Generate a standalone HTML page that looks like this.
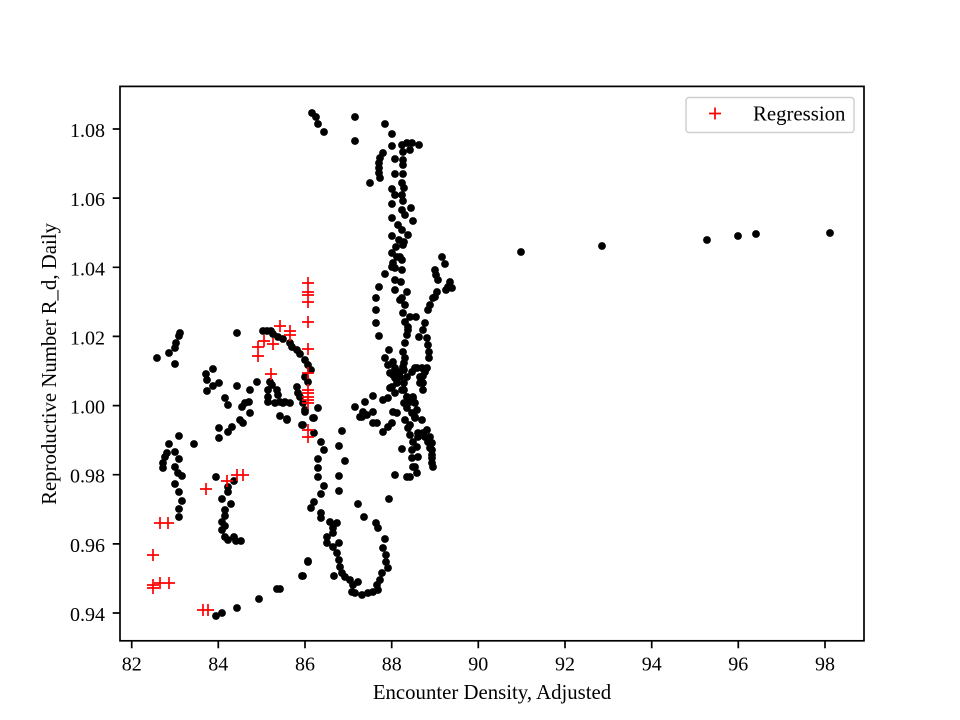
<!DOCTYPE html>
<html><head><meta charset="utf-8"><style>
html,body{margin:0;padding:0;background:#fff}
svg{display:block}
text{font-family:"Liberation Serif","DejaVu Serif",serif;fill:#000}
</style></head><body>
<svg width="960" height="720" viewBox="0 0 960 720" xmlns="http://www.w3.org/2000/svg">
<rect width="960" height="720" fill="#fff"/>
<g fill="#000">
<circle cx="179" cy="336" r="3.9"/><circle cx="176" cy="343" r="3.9"/><circle cx="175" cy="348" r="3.9"/><circle cx="169" cy="353" r="3.9"/><circle cx="157" cy="358" r="3.9"/><circle cx="175" cy="364" r="3.9"/><circle cx="180" cy="333" r="3.9"/>
<circle cx="237" cy="333" r="3.9"/>
<circle cx="263" cy="331" r="3.9"/><circle cx="267" cy="331" r="3.9"/><circle cx="271" cy="331" r="3.9"/><circle cx="273" cy="334" r="3.9"/><circle cx="278" cy="337" r="3.9"/><circle cx="283" cy="339" r="3.9"/><circle cx="290" cy="343" r="3.9"/><circle cx="292" cy="347" r="3.9"/><circle cx="297" cy="350" r="3.9"/><circle cx="300" cy="354" r="3.9"/><circle cx="305" cy="360" r="3.9"/><circle cx="308" cy="365" r="3.9"/><circle cx="311" cy="370" r="3.9"/>
<circle cx="213" cy="369" r="3.9"/><circle cx="206" cy="374" r="3.9"/><circle cx="207" cy="380" r="3.9"/><circle cx="207" cy="391" r="3.9"/><circle cx="219" cy="383" r="3.9"/><circle cx="213" cy="386" r="3.9"/>
<circle cx="237" cy="386" r="3.9"/><circle cx="250" cy="390" r="3.9"/><circle cx="257" cy="382" r="3.9"/><circle cx="225" cy="398" r="3.9"/><circle cx="228" cy="405" r="3.9"/>
<circle cx="245" cy="403" r="3.9"/><circle cx="249" cy="402" r="3.9"/><circle cx="242" cy="407" r="3.9"/><circle cx="250" cy="413" r="3.9"/><circle cx="240" cy="420" r="3.9"/><circle cx="243" cy="423" r="3.9"/>
<circle cx="219" cy="428" r="3.9"/><circle cx="219" cy="438" r="3.9"/><circle cx="228" cy="432" r="3.9"/><circle cx="232" cy="427" r="3.9"/>
<circle cx="270" cy="382" r="3.9"/><circle cx="272" cy="385" r="3.9"/><circle cx="268" cy="390" r="3.9"/><circle cx="268" cy="397" r="3.9"/><circle cx="268" cy="402" r="3.9"/><circle cx="275" cy="403" r="3.9"/><circle cx="277" cy="390" r="3.9"/><circle cx="278" cy="395" r="3.9"/><circle cx="280" cy="402" r="3.9"/><circle cx="285" cy="402" r="3.9"/><circle cx="290" cy="403" r="3.9"/><circle cx="280" cy="416" r="3.9"/><circle cx="287" cy="419" r="3.9"/>
<circle cx="297" cy="387" r="3.9"/><circle cx="298" cy="393" r="3.9"/><circle cx="300" cy="397" r="3.9"/><circle cx="303" cy="403" r="3.9"/><circle cx="305" cy="410" r="3.9"/><circle cx="303" cy="425" r="3.9"/><circle cx="305" cy="377" r="3.9"/><circle cx="308" cy="382" r="3.9"/>
<circle cx="283" cy="403" r="3.9"/><circle cx="287" cy="420" r="3.9"/><circle cx="302" cy="425" r="3.9"/><circle cx="313" cy="418" r="3.9"/><circle cx="305" cy="412" r="3.9"/>
<circle cx="318" cy="408" r="3.9"/><circle cx="314" cy="418" r="3.9"/><circle cx="314" cy="433" r="3.9"/><circle cx="321" cy="442" r="3.9"/><circle cx="324" cy="450" r="3.9"/><circle cx="318" cy="459" r="3.9"/><circle cx="318" cy="468" r="3.9"/><circle cx="318" cy="477" r="3.9"/><circle cx="324" cy="486" r="3.9"/><circle cx="321" cy="494" r="3.9"/><circle cx="314" cy="502" r="3.9"/><circle cx="311" cy="508" r="3.9"/><circle cx="321" cy="513" r="3.9"/><circle cx="321" cy="518" r="3.9"/><circle cx="330" cy="522" r="3.9"/><circle cx="337" cy="523" r="3.9"/><circle cx="333" cy="528" r="3.9"/><circle cx="333" cy="533" r="3.9"/><circle cx="327" cy="537" r="3.9"/><circle cx="327" cy="543" r="3.9"/><circle cx="333" cy="547" r="3.9"/><circle cx="339" cy="543" r="3.9"/><circle cx="337" cy="553" r="3.9"/><circle cx="339" cy="560" r="3.9"/><circle cx="340" cy="567" r="3.9"/><circle cx="342" cy="573" r="3.9"/><circle cx="334" cy="576" r="3.9"/><circle cx="345" cy="577" r="3.9"/><circle cx="350" cy="580" r="3.9"/><circle cx="353" cy="585" r="3.9"/><circle cx="358" cy="582" r="3.9"/><circle cx="352" cy="592" r="3.9"/><circle cx="355" cy="593" r="3.9"/><circle cx="362" cy="595" r="3.9"/><circle cx="368" cy="593" r="3.9"/><circle cx="373" cy="592" r="3.9"/><circle cx="378" cy="590" r="3.9"/><circle cx="377" cy="585" r="3.9"/><circle cx="380" cy="580" r="3.9"/><circle cx="382" cy="573" r="3.9"/><circle cx="388" cy="568" r="3.9"/><circle cx="386" cy="562" r="3.9"/><circle cx="386" cy="555" r="3.9"/><circle cx="383" cy="548" r="3.9"/><circle cx="385" cy="539" r="3.9"/><circle cx="378" cy="528" r="3.9"/><circle cx="376" cy="523" r="3.9"/><circle cx="364" cy="517" r="3.9"/><circle cx="358" cy="504" r="3.9"/><circle cx="389" cy="499" r="3.9"/><circle cx="308" cy="562" r="3.9"/><circle cx="303" cy="576" r="3.9"/><circle cx="280" cy="589" r="3.9"/>
<circle cx="342" cy="431" r="3.9"/><circle cx="339" cy="446" r="3.9"/><circle cx="345" cy="461" r="3.9"/><circle cx="339" cy="476" r="3.9"/><circle cx="339" cy="491" r="3.9"/>
<circle cx="355" cy="407" r="3.9"/><circle cx="360" cy="417" r="3.9"/>
<circle cx="179" cy="436" r="3.9"/><circle cx="169" cy="444" r="3.9"/><circle cx="175" cy="452" r="3.9"/><circle cx="167" cy="453" r="3.9"/><circle cx="165" cy="457" r="3.9"/><circle cx="179" cy="459" r="3.9"/><circle cx="163" cy="463" r="3.9"/><circle cx="163" cy="468" r="3.9"/><circle cx="175" cy="467" r="3.9"/><circle cx="178" cy="473" r="3.9"/><circle cx="182" cy="476" r="3.9"/><circle cx="175" cy="484" r="3.9"/><circle cx="179" cy="492" r="3.9"/><circle cx="182" cy="501" r="3.9"/><circle cx="179" cy="509" r="3.9"/><circle cx="179" cy="517" r="3.9"/><circle cx="194" cy="444" r="3.9"/>
<circle cx="216" cy="477" r="3.9"/><circle cx="234" cy="481" r="3.9"/><circle cx="228" cy="487" r="3.9"/><circle cx="228" cy="492" r="3.9"/><circle cx="222" cy="499" r="3.9"/><circle cx="231" cy="504" r="3.9"/><circle cx="225" cy="510" r="3.9"/><circle cx="225" cy="516" r="3.9"/><circle cx="222" cy="522" r="3.9"/><circle cx="225" cy="526" r="3.9"/><circle cx="222" cy="530" r="3.9"/><circle cx="225" cy="537" r="3.9"/><circle cx="228" cy="540" r="3.9"/><circle cx="234" cy="537" r="3.9"/><circle cx="236" cy="541" r="3.9"/><circle cx="241" cy="541" r="3.9"/>
<circle cx="216" cy="616" r="3.9"/><circle cx="222" cy="613" r="3.9"/><circle cx="237" cy="608" r="3.9"/><circle cx="259" cy="599" r="3.9"/><circle cx="277" cy="589" r="3.9"/><circle cx="302" cy="576" r="3.9"/><circle cx="308" cy="561" r="3.9"/>
<circle cx="312" cy="113" r="3.9"/><circle cx="316" cy="117" r="3.9"/><circle cx="318" cy="124" r="3.9"/><circle cx="324" cy="132" r="3.9"/><circle cx="355" cy="117" r="3.9"/><circle cx="355" cy="141" r="3.9"/>
<circle cx="385" cy="124" r="3.9"/><circle cx="392" cy="134" r="3.9"/><circle cx="392" cy="146" r="3.9"/><circle cx="402" cy="145" r="3.9"/><circle cx="407" cy="143" r="3.9"/><circle cx="412" cy="143" r="3.9"/><circle cx="419" cy="145" r="3.9"/><circle cx="410" cy="150" r="3.9"/><circle cx="403" cy="152" r="3.9"/><circle cx="395" cy="159" r="3.9"/><circle cx="403" cy="160" r="3.9"/><circle cx="403" cy="165" r="3.9"/>
<circle cx="383" cy="153" r="3.9"/><circle cx="380" cy="158" r="3.9"/><circle cx="379" cy="163" r="3.9"/><circle cx="379" cy="168" r="3.9"/><circle cx="379" cy="173" r="3.9"/><circle cx="380" cy="178" r="3.9"/><circle cx="370" cy="183" r="3.9"/>
<circle cx="395" cy="174" r="3.9"/><circle cx="403" cy="174" r="3.9"/><circle cx="402" cy="183" r="3.9"/><circle cx="404" cy="188" r="3.9"/><circle cx="392" cy="189" r="3.9"/><circle cx="395" cy="195" r="3.9"/><circle cx="392" cy="204" r="3.9"/><circle cx="402" cy="195" r="3.9"/><circle cx="403" cy="201" r="3.9"/><circle cx="402" cy="210" r="3.9"/><circle cx="411" cy="208" r="3.9"/><circle cx="405" cy="215" r="3.9"/><circle cx="392" cy="218" r="3.9"/><circle cx="413" cy="221" r="3.9"/><circle cx="398" cy="225" r="3.9"/><circle cx="402" cy="230" r="3.9"/><circle cx="408" cy="235" r="3.9"/><circle cx="392" cy="236" r="3.9"/><circle cx="399" cy="240" r="3.9"/><circle cx="403" cy="245" r="3.9"/><circle cx="396" cy="247" r="3.9"/><circle cx="392" cy="253" r="3.9"/><circle cx="400" cy="257" r="3.9"/><circle cx="404" cy="242" r="3.9"/><circle cx="397" cy="257" r="3.9"/>
<circle cx="402" cy="260" r="3.9"/><circle cx="393" cy="263" r="3.9"/><circle cx="392" cy="267" r="3.9"/><circle cx="395" cy="268" r="3.9"/><circle cx="402" cy="270" r="3.9"/><circle cx="385" cy="274" r="3.9"/><circle cx="395" cy="280" r="3.9"/><circle cx="401" cy="282" r="3.9"/><circle cx="395" cy="290" r="3.9"/><circle cx="407" cy="292" r="3.9"/><circle cx="402" cy="298" r="3.9"/><circle cx="400" cy="300" r="3.9"/><circle cx="405" cy="305" r="3.9"/><circle cx="403" cy="313" r="3.9"/><circle cx="410" cy="317" r="3.9"/><circle cx="416" cy="317" r="3.9"/><circle cx="405" cy="322" r="3.9"/><circle cx="408" cy="327" r="3.9"/><circle cx="408" cy="330" r="3.9"/><circle cx="407" cy="335" r="3.9"/><circle cx="405" cy="343" r="3.9"/><circle cx="403" cy="352" r="3.9"/><circle cx="405" cy="358" r="3.9"/><circle cx="404" cy="363" r="3.9"/><circle cx="403" cy="367" r="3.9"/><circle cx="404" cy="370" r="3.9"/><circle cx="400" cy="372" r="3.9"/><circle cx="393" cy="375" r="3.9"/><circle cx="407" cy="377" r="3.9"/><circle cx="404" cy="383" r="3.9"/><circle cx="404" cy="390" r="3.9"/><circle cx="407" cy="397" r="3.9"/><circle cx="404" cy="403" r="3.9"/>
<circle cx="388" cy="365" r="3.9"/><circle cx="385" cy="358" r="3.9"/><circle cx="389" cy="350" r="3.9"/><circle cx="393" cy="362" r="3.9"/><circle cx="395" cy="368" r="3.9"/><circle cx="390" cy="373" r="3.9"/><circle cx="395" cy="378" r="3.9"/><circle cx="392" cy="387" r="3.9"/><circle cx="395" cy="393" r="3.9"/>
<circle cx="379" cy="287" r="3.9"/><circle cx="376" cy="298" r="3.9"/><circle cx="376" cy="310" r="3.9"/><circle cx="376" cy="323" r="3.9"/><circle cx="379" cy="336" r="3.9"/>
<circle cx="442" cy="257" r="3.9"/><circle cx="445" cy="264" r="3.9"/><circle cx="435" cy="270" r="3.9"/><circle cx="436" cy="275" r="3.9"/><circle cx="438" cy="280" r="3.9"/><circle cx="450" cy="282" r="3.9"/><circle cx="452" cy="288" r="3.9"/><circle cx="448" cy="287" r="3.9"/><circle cx="446" cy="290" r="3.9"/><circle cx="437" cy="292" r="3.9"/><circle cx="435" cy="297" r="3.9"/><circle cx="433" cy="298" r="3.9"/><circle cx="430" cy="305" r="3.9"/><circle cx="428" cy="310" r="3.9"/><circle cx="425" cy="323" r="3.9"/><circle cx="423" cy="330" r="3.9"/><circle cx="419" cy="337" r="3.9"/><circle cx="427" cy="338" r="3.9"/><circle cx="428" cy="345" r="3.9"/><circle cx="429" cy="352" r="3.9"/><circle cx="429" cy="358" r="3.9"/><circle cx="415" cy="368" r="3.9"/><circle cx="417" cy="368" r="3.9"/><circle cx="422" cy="368" r="3.9"/><circle cx="427" cy="368" r="3.9"/><circle cx="423" cy="376" r="3.9"/><circle cx="423" cy="383" r="3.9"/><circle cx="423" cy="390" r="3.9"/><circle cx="413" cy="397" r="3.9"/><circle cx="415" cy="403" r="3.9"/><circle cx="417" cy="410" r="3.9"/><circle cx="415" cy="417" r="3.9"/><circle cx="422" cy="420" r="3.9"/><circle cx="427" cy="430" r="3.9"/><circle cx="430" cy="437" r="3.9"/><circle cx="432" cy="443" r="3.9"/><circle cx="432" cy="450" r="3.9"/><circle cx="432" cy="458" r="3.9"/><circle cx="433" cy="467" r="3.9"/><circle cx="418" cy="437" r="3.9"/><circle cx="417" cy="447" r="3.9"/><circle cx="418" cy="457" r="3.9"/><circle cx="415" cy="467" r="3.9"/><circle cx="417" cy="473" r="3.9"/>
<circle cx="365" cy="402" r="3.9"/><circle cx="373" cy="396" r="3.9"/><circle cx="363" cy="412" r="3.9"/><circle cx="362" cy="417" r="3.9"/><circle cx="367" cy="415" r="3.9"/><circle cx="373" cy="412" r="3.9"/><circle cx="373" cy="423" r="3.9"/><circle cx="377" cy="423" r="3.9"/><circle cx="383" cy="432" r="3.9"/><circle cx="388" cy="427" r="3.9"/><circle cx="392" cy="423" r="3.9"/><circle cx="393" cy="412" r="3.9"/><circle cx="397" cy="413" r="3.9"/><circle cx="383" cy="400" r="3.9"/><circle cx="388" cy="398" r="3.9"/><circle cx="390" cy="388" r="3.9"/><circle cx="395" cy="375" r="3.9"/><circle cx="400" cy="377" r="3.9"/><circle cx="397" cy="383" r="3.9"/><circle cx="402" cy="390" r="3.9"/><circle cx="407" cy="397" r="3.9"/><circle cx="410" cy="402" r="3.9"/><circle cx="413" cy="398" r="3.9"/><circle cx="407" cy="408" r="3.9"/><circle cx="412" cy="413" r="3.9"/><circle cx="415" cy="418" r="3.9"/><circle cx="405" cy="420" r="3.9"/><circle cx="410" cy="425" r="3.9"/><circle cx="408" cy="428" r="3.9"/><circle cx="410" cy="435" r="3.9"/><circle cx="413" cy="442" r="3.9"/><circle cx="412" cy="450" r="3.9"/><circle cx="412" cy="458" r="3.9"/><circle cx="413" cy="467" r="3.9"/><circle cx="410" cy="477" r="3.9"/><circle cx="407" cy="477" r="3.9"/><circle cx="395" cy="475" r="3.9"/><circle cx="418" cy="433" r="3.9"/><circle cx="423" cy="433" r="3.9"/><circle cx="425" cy="437" r="3.9"/><circle cx="428" cy="442" r="3.9"/><circle cx="430" cy="448" r="3.9"/><circle cx="432" cy="455" r="3.9"/><circle cx="432" cy="463" r="3.9"/><circle cx="402" cy="449" r="3.9"/><circle cx="420" cy="377" r="3.9"/><circle cx="420" cy="383" r="3.9"/><circle cx="425" cy="372" r="3.9"/><circle cx="412" cy="372" r="3.9"/>
<circle cx="521" cy="252" r="3.9"/><circle cx="602" cy="246" r="3.9"/><circle cx="707" cy="240" r="3.9"/><circle cx="738" cy="236" r="3.9"/><circle cx="756" cy="234" r="3.9"/><circle cx="830" cy="233" r="3.9"/>
</g>
<g stroke="#ff0000" stroke-width="1.7" fill="none">
<path d="M302 283h12M308 277v12M302 292h12M308 286v12M302 295h12M308 289v12M302 302h12M308 296v12M302 322h12M308 316v12M302 349h12M308 343v12M302 373h12M308 367v12M302 390h12M308 384v12M302 393h12M308 387v12M302 397h12M308 391v12M302 400h12M308 394v12M302 403h12M308 397v12M302 430h12M308 424v12M302 437h12M308 431v12"/>
<path d="M274 326h12M280 320v12M284 331h12M290 325v12M284 335h12M290 329v12M258 341h12M264 335v12M267 344h12M273 338v12M252 347h12M258 341v12M252 356h12M258 350v12M265 374h12M271 368v12"/>
<path d="M221 481h12M227 475v12M231 475h12M237 469v12M237 475h12M243 469v12M200 489h12M206 483v12M154 523h12M160 517v12M162 523h12M168 517v12M147 555h12M153 549v12M147 585h12M153 579v12M154 583h12M160 577v12M163 583h12M169 577v12M147 588h12M153 582v12M197 610h12M203 604v12M202 610h12M208 604v12"/>
</g>
<rect x="120" y="86.4" width="744" height="554.4" fill="none" stroke="#000" stroke-width="1.7"/>
<g stroke="#000" stroke-width="1.7">
<path d="M131.7 641v7.3M218.3 641v7.3M305 641v7.3M391.7 641v7.3M478.3 641v7.3M565 641v7.3M651.7 641v7.3M738.3 641v7.3M825 641v7.3"/>
<path d="M120 129h-7.3M120 198.1h-7.3M120 267.3h-7.3M120 336.4h-7.3M120 405.6h-7.3M120 474.7h-7.3M120 543.9h-7.3M120 613h-7.3"/>
</g>
<g font-size="20" text-anchor="middle">
<text x="131.7" y="670.5">82</text><text x="218.3" y="670.5">84</text><text x="305" y="670.5">86</text><text x="391.7" y="670.5">88</text><text x="478.3" y="670.5">90</text><text x="565" y="670.5">92</text><text x="651.7" y="670.5">94</text><text x="738.3" y="670.5">96</text><text x="825" y="670.5">98</text>
</g>
<g font-size="20" text-anchor="end">
<text x="105" y="137">1.08</text><text x="105" y="206.1">1.06</text><text x="105" y="275.3">1.04</text><text x="105" y="344.4">1.02</text><text x="105" y="413.6">1.00</text><text x="105" y="482.7">0.98</text><text x="105" y="551.9">0.96</text><text x="105" y="621">0.94</text>
</g>
<text x="492" y="699" font-size="20.8" text-anchor="middle">Encounter Density, Adjusted</text>
<text transform="translate(56,364) rotate(-90)" font-size="20.8" text-anchor="middle">Reproductive Number R_d, Daily</text>
<rect x="686" y="97.5" width="168" height="35" rx="3" fill="#fff" fill-opacity="0.8" stroke="#d0d0d0" stroke-width="1.5"/>
<path d="M709 113.5h12M715 107.5v12" stroke="#ff0000" stroke-width="1.7"/>
<text x="753" y="120.5" font-size="20.8">Regression</text>
</svg>
</body></html>
